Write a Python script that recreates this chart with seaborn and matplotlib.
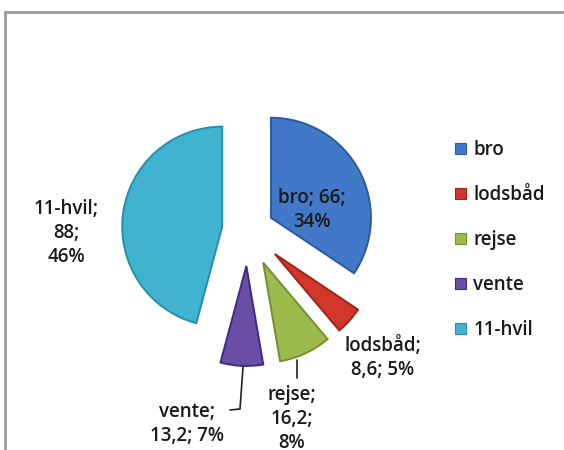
import matplotlib
matplotlib.use("Agg")
import matplotlib.pyplot as plt
from matplotlib.lines import Line2D
import seaborn as sns

# data
categories = ["bro", "lodsbåd", "rejse", "vente", "11-hvil"]
values = [66, 8.6, 16.2, 13.2, 88]
percents = [34, 5, 8, 7, 46]  # as printed in the chart labels
colors = ["#4178C8", "#D2372A", "#9CBB4C", "#6A4EA5", "#3FB3D0"]
edge_colors = ["#2B5A9E", "#9E2418", "#72902E", "#3E2C80", "#2A8EAA"]

# label layout (pixel position from top-left, and where the text wraps)
label_pos = [(312, 210), (383, 358), (292, 419), (187, 424), (66, 233)]
label_fmt = ["{n}; {v};\n{p}%", "{n};\n{v}; {p}%", "{n};\n{v};\n{p}%",
             "{n};\n{v}; {p}%", "{n};\n{v};\n{p}%"]

sns.set_theme(style="white")
plt.rcParams["font.family"] = ["Open Sans", "DejaVu Sans"]

W, H = 564, 450
R = 100
fig = plt.figure(figsize=(W / 100, H / 100), dpi=100)
ax = fig.add_axes([0, 0, 1, 1])

# explode is in data units, so scale by the radius
explode = [f * R for f in [0.26, 0.36, 0.36, 0.36, 0.26]]
wedges, _ = ax.pie(values, colors=colors, startangle=90, counterclock=False,
                   center=(248, H - 230), radius=R, explode=explode,
                   wedgeprops=dict(linewidth=1.4), frame=True)
for w, ec in zip(wedges, edge_colors):
    w.set_edgecolor(ec)
ax.set_xlim(0, W)
ax.set_ylim(0, H)
ax.set_aspect("equal")
ax.axis("off")

for name, v, p, pos, fmt in zip(categories, values, percents, label_pos, label_fmt):
    txt = fmt.format(n=name, v=f"{v:g}".replace(".", ","), p=p)
    ax.text(pos[0], H - pos[1], txt, ha="center", va="center",
            fontsize=13.5, color="#1a1a1a", linespacing=1.28, fontweight="semibold")

# leader lines
ax.plot([243, 240, 230], [H - 367, H - 409, H - 410], color="#222222", lw=1.2)
ax.plot([297, 297], [H - 360, H - 378], color="#222222", lw=1.2)

leg = ax.legend(wedges, categories, loc="upper left",
                bbox_to_anchor=(446 / W, 1 - 131 / H), frameon=False,
                prop=dict(size=13.5, weight="semibold"),
                handlelength=0.55, handleheight=0.55,
                handletextpad=0.4, labelspacing=1.33, borderpad=0)
for t in leg.get_texts():
    t.set_color("#1a1a1a")
for h, ec in zip(leg.legend_handles, edge_colors):
    h.set_edgecolor(ec)
    h.set_linewidth(0.8)

# chart frame (cut off at right and bottom)
fig.add_artist(Line2D([5 / W, 1], [1 - 12 / H, 1 - 12 / H], color="#9a9a9a", lw=2))
fig.add_artist(Line2D([5 / W, 5 / W], [0, 1 - 12 / H], color="#9a9a9a", lw=2))

fig.savefig("out.png", dpi=100)
